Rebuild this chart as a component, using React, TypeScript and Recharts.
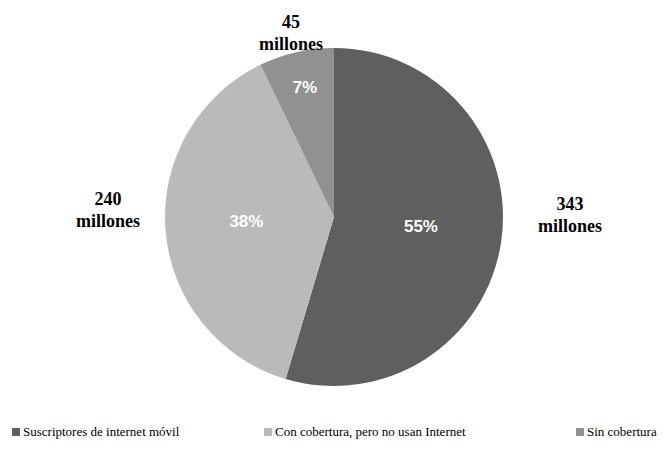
import { PieChart, Pie, Cell, Legend } from 'recharts';

const categories = ['Suscriptores de internet móvil', 'Con cobertura, pero no usan Internet', 'Sin cobertura'];
const millones = [343, 240, 45];
const porcentajes = ['55%', '38%', '7%'];
const colors = ['#5f5f5f', '#bababa', '#919191'];

const data = categories.map((name, i) => ({ name, value: millones[i] }));

// label placement (Excel "best fit" look)
const innerR = [0.52, 0.52, 0.77];
const outerOffset = [[236, -6], [-226, -11], [-43, -188]];
const legendLeft = [12, 264, 576];

const RAD = Math.PI / 180;
const SERIF = "'Liberation Serif', 'Times New Roman', serif";

const renderLabel = (props: any) => {
  const { cx, cy, midAngle, outerRadius, index } = props;
  const cos = Math.cos(-midAngle * RAD);
  const sin = Math.sin(-midAngle * RAD);
  const ix = cx + outerRadius * innerR[index] * cos;
  const iy = cy + outerRadius * innerR[index] * sin - 3;
  const ox = cx + outerOffset[index][0];
  const oy = cy + outerOffset[index][1];
  return (
    <g>
      <text x={ix} y={iy} fill="#ffffff" textAnchor="middle" dominantBaseline="central"
        style={{ fontFamily: "'Liberation Sans', Arial, sans-serif", fontWeight: 'bold', fontSize: 17 }}>
        {porcentajes[index]}
      </text>
      <text x={ox} y={oy} fill="#000000" textAnchor="middle"
        style={{ fontFamily: SERIF, fontWeight: 'bold', fontSize: 18 }}>
        <tspan x={ox} dy="-0.05em">{millones[index]}</tspan>
        <tspan x={ox} dy="1.2em">millones</tspan>
      </text>
    </g>
  );
};

const renderLegend = () => (
  <div style={{ position: 'relative', height: 18, fontFamily: SERIF, fontSize: 13, color: '#000' }}>
    {categories.map((c, i) => (
      <div key={c} style={{ position: 'absolute', left: legendLeft[i], top: 0, display: 'flex', alignItems: 'center', whiteSpace: 'nowrap' }}>
        <span style={{ display: 'inline-block', width: 8, height: 8, background: colors[i], marginRight: 3 }} />
        {c}
      </div>
    ))}
  </div>
);

export default function App() {
  return (
    <div style={{ position: 'absolute', left: 0, top: 0, width: 663, height: 459, background: '#fff', fontFamily: SERIF }}>
      <PieChart width={663} height={459} margin={{ top: 0, right: 0, bottom: 0, left: 0 }}>
        <Pie
          data={data}
          dataKey="value"
          nameKey="name"
          cx={334}
          cy={217}
          outerRadius={169}
          startAngle={90}
          endAngle={-270}
          stroke="none"
          label={renderLabel}
          labelLine={false}
          isAnimationActive={false}
        >
          {data.map((d, i) => (
            <Cell key={d.name} fill={colors[i]} />
          ))}
        </Pie>
        <Legend content={renderLegend} wrapperStyle={{ position: 'absolute', left: 0, top: 424, width: 663 }} />
      </PieChart>
    </div>
  );
}
